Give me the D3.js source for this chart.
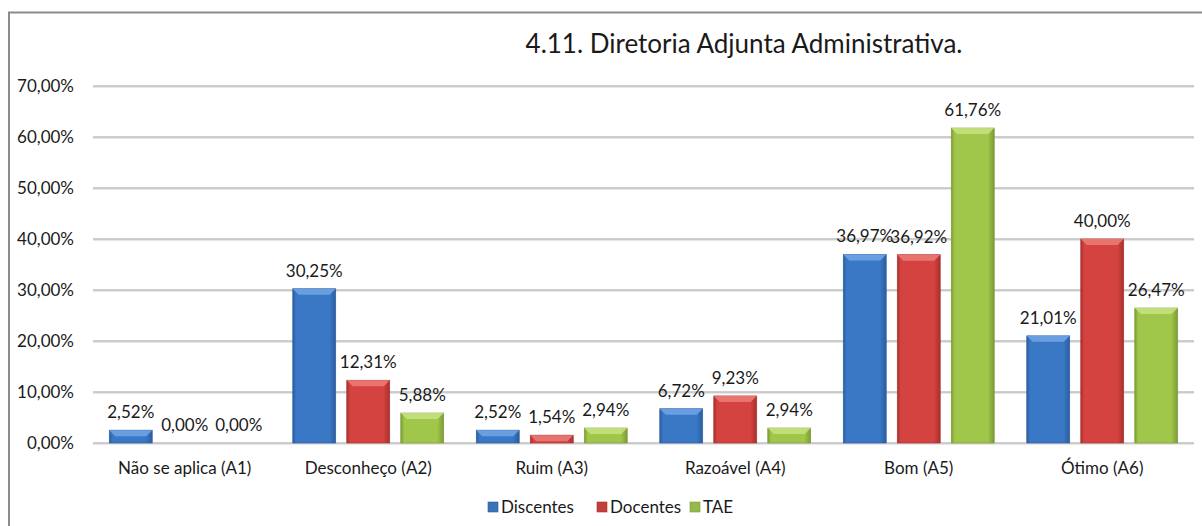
<!DOCTYPE html>
<html>
<head>
<meta charset="utf-8">
<script src="https://cdn.jsdelivr.net/npm/d3@7/dist/d3.min.js"></script>
<style>
  html, body { margin: 0; padding: 0; background: #fff; }
  svg { display: block; }
  text { font-family: Lato, "Noto Sans", sans-serif; fill: #1a1a1a; }
</style>
</head>
<body>
<script>
// Categories and series values (percent)
const categories = ["Não se aplica (A1)", "Desconheço (A2)", "Ruim (A3)", "Razoável (A4)", "Bom (A5)", "Ótimo (A6)"];
const seriesNames = ["Discentes", "Docentes", "TAE"];
const discentes = [2.52, 30.25, 2.52, 6.72, 36.97, 21.01];
const docentes  = [0.00, 12.31, 1.54, 9.23, 36.92, 40.00];
const tae       = [0.00, 5.88, 2.94, 2.94, 61.76, 26.47];
const yTicks = [0, 10, 20, 30, 40, 50, 60, 70];
const title = "4.11. Diretoria Adjunta Administrativa.";

const seriesValues = [discentes, docentes, tae];
const colors = [
  { base: "#3a78c6", dark: "#2b5d9e", light: "#6fa3e3", legend: "#3b73b9" },
  { base: "#d4433f", dark: "#a8302d", light: "#ea7a76", legend: "#c0403c" },
  { base: "#a0c64a", dark: "#7c9a35", light: "#c4e07e", legend: "#94b94a" }
];

const W = 1202, H = 526;
const FS = 17;
const svg = d3.select("body").append("svg").attr("width", W).attr("height", H);

const fmt = v => v.toFixed(2).replace(".", ",") + "%";

// gradients for the bevelled bars
const defs = svg.append("defs");
colors.forEach((c, i) => {
  const g = defs.append("linearGradient").attr("id", "grad" + i)
    .attr("x1", "0").attr("x2", "1").attr("y1", "0").attr("y2", "0");
  g.append("stop").attr("offset", "0").attr("stop-color", c.dark);
  g.append("stop").attr("offset", "0.08").attr("stop-color", c.base);
  g.append("stop").attr("offset", "0.85").attr("stop-color", c.base);
  g.append("stop").attr("offset", "1").attr("stop-color", c.dark);
});

// outer frame
svg.append("path")
  .attr("d", `M9,${H + 5} L9,12.5 L${W + 5},12.5`)
  .attr("fill", "none").attr("stroke", "#8c8c8c").attr("stroke-width", 2);

const plot = { left: 93, right: 1194, top: 86, bottom: 443 };

const x = d3.scaleBand().domain(categories).range([plot.left, plot.right]);
const y = d3.scaleLinear().domain([0, 70]).range([plot.bottom, plot.top]);
const barW = 43, step = 54;

// grid lines
const grid = svg.append("g");
grid.selectAll("line.shadow").data(yTicks).join("line")
  .attr("x1", plot.left).attr("x2", plot.right)
  .attr("y1", d => y(d) + 1.2).attr("y2", d => y(d) + 1.2)
  .attr("stroke", "#dcdcdc").attr("stroke-width", 1);
grid.selectAll("line.main").data(yTicks).join("line")
  .attr("x1", plot.left).attr("x2", plot.right)
  .attr("y1", d => y(d)).attr("y2", d => y(d))
  .attr("stroke", "#a0a0a0").attr("stroke-width", 1.2);

// y axis labels
const yAxis = d3.axisLeft(y).tickValues(yTicks).tickFormat(fmt).tickSize(0).tickPadding(0);
const yg = svg.append("g").attr("transform", `translate(${plot.left - 19},0)`).call(yAxis);
yg.select(".domain").remove();
yg.selectAll("text").attr("font-size", FS).attr("fill", "#1a1a1a")
  .style("font-family", "Lato, 'Noto Sans', sans-serif");

// x axis labels
const xAxis = d3.axisBottom(x).tickSize(0).tickPadding(0);
const xg = svg.append("g").attr("transform", `translate(0,${plot.bottom + 31})`).call(xAxis);
xg.select(".domain").remove();
xg.selectAll("text").attr("font-size", FS).attr("fill", "#1a1a1a").attr("dy", 0)
  .style("font-family", "Lato, 'Noto Sans', sans-serif");

// bars
seriesValues.forEach((vals, si) => {
  const g = svg.append("g");
  const cx = (c) => x(c) + x.bandwidth() / 2 + (si - 1) * step;
  const data = categories.map((c, i) => ({ c, v: vals[i] }));
  const bars = data.filter(d => d.v > 0);
  g.selectAll("rect").data(bars).join("rect")
    .attr("x", d => cx(d.c) - barW / 2)
    .attr("y", d => y(d.v))
    .attr("width", barW)
    .attr("height", d => y(0) - y(d.v))
    .attr("fill", `url(#grad${si})`)
    .attr("stroke", colors[si].dark).attr("stroke-width", 0.6);
  // top bevel
  g.selectAll("path.bevel").data(bars).join("path")
    .attr("d", d => {
      const x0 = cx(d.c) - barW / 2, x1 = x0 + barW, t = y(d.v);
      const h = Math.min(6, y(0) - t);
      return `M${x0},${t} L${x1},${t} L${x1 - 6},${t + h} L${x0 + 6},${t + h} Z`;
    })
    .attr("fill", colors[si].light).attr("opacity", 0.9);
  // value labels
  g.selectAll("text").data(data).join("text")
    .attr("x", d => cx(d.c))
    .attr("y", d => y(d.v) - 12)
    .attr("text-anchor", "middle")
    .attr("font-size", FS)
    .text(d => fmt(d.v));
});

// title
svg.append("text").attr("x", 744).attr("y", 53).attr("text-anchor", "middle")
  .attr("font-size", 26).text(title);

// legend
const legendX = [488, 597, 690];
const lg = svg.append("g");
seriesNames.forEach((n, i) => {
  lg.append("rect").attr("x", legendX[i]).attr("y", 502).attr("width", 10).attr("height", 10)
    .attr("fill", colors[i].legend).attr("stroke", colors[i].dark).attr("stroke-width", 0.6);
  lg.append("text").attr("x", legendX[i] + 13).attr("y", 513).attr("font-size", FS).text(n);
});
</script>
</body>
</html>
